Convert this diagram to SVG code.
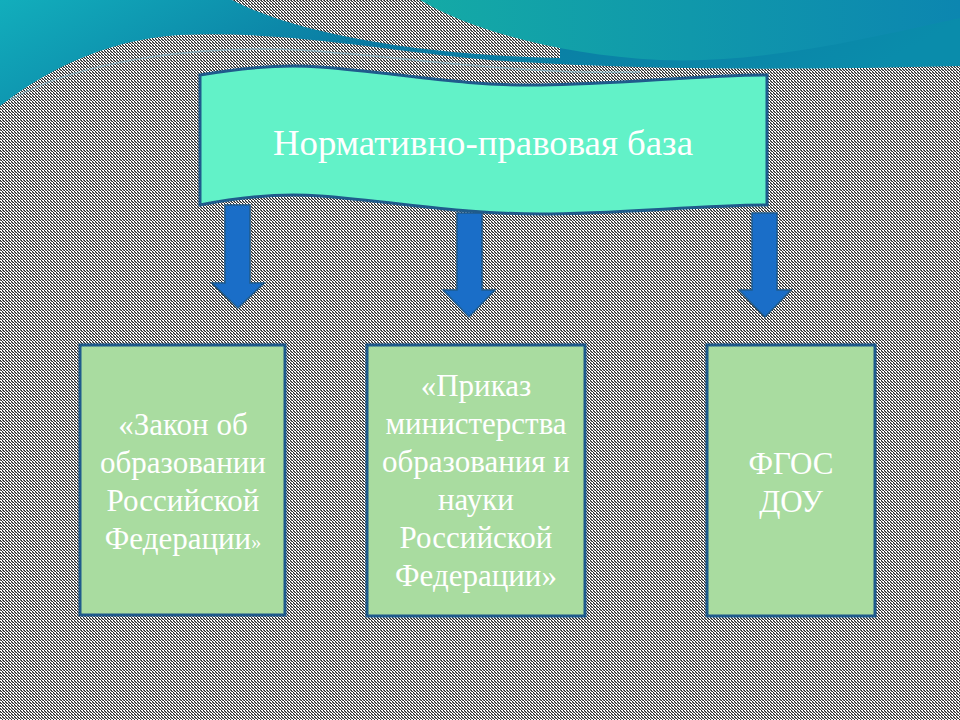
<svg xmlns="http://www.w3.org/2000/svg" width="960" height="720" viewBox="0 0 960 720">
<defs>
<pattern id="bg" width="3" height="3" patternUnits="userSpaceOnUse">
<rect width="3" height="3" fill="#ffffff"/>
<rect x="0" y="0" width="1" height="1" fill="#2a2a2a"/><rect x="1" y="1" width="1" height="1" fill="#2a2a2a"/><rect x="2" y="2" width="1" height="1" fill="#2a2a2a"/><rect x="2" y="0" width="1" height="1" fill="#777"/><rect x="0" y="1" width="1" height="1" fill="#777"/>
</pattern>
<linearGradient id="tl" x1="0" y1="0" x2="1" y2="0.2"><stop offset="0" stop-color="#12aebc"/><stop offset="0.45" stop-color="#0a7aa2"/><stop offset="1" stop-color="#0a8cab"/></linearGradient>
<linearGradient id="tr" x1="0" y1="0" x2="1" y2="0"><stop offset="0" stop-color="#14aaa6"/><stop offset="1" stop-color="#0c86b0"/></linearGradient>
<style>
.box{fill:#a9dca0;stroke:#1f5b8c;stroke-width:3}
.t{font-family:"Liberation Serif",serif;fill:#fff;text-anchor:middle}
.arr{fill:#1a6ec8;stroke:#1f5b8c;stroke-width:1.5}
</style>
</defs>
<rect width="960" height="720" fill="url(#bg)"/>
<path d="M0,0 H960 V66 C800,70 650,70 520,62 C400,55 300,30 180,35 C100,40 40,75 0,106 Z" fill="url(#tl)"/>
<path d="M232,0 C300,35 420,55 560,58 L560,0 Z" fill="url(#bg)"/>
<path d="M420,0 C470,30 560,55 660,60 C760,64 860,40 960,18 V0 Z" fill="url(#tr)"/>
<path d="M10,100 C80,60 200,45 300,50 C420,58 520,75 640,72" fill="none" stroke="#8bc" stroke-width="1.5" opacity="0.7"/>
<g id="header">
<path d="M200,75 C240,68 280,64 320,67 C400,73 460,86 540,85 C620,84 700,75 767,75 V205 C700,205 620,214 540,214 C460,214 400,202 320,196 C280,193 240,197 200,205 Z" fill="#62f2c8" stroke="#1f5b8c" stroke-width="3"/>
<text class="t" x="483" y="155" style="font-size:36px" textLength="420" lengthAdjust="spacingAndGlyphs">Нормативно-правовая база</text>
</g>
<g id="connectors">
<path class="arr" d="M225,205 H250 V283 H264 L238,308 L212,283 H225 Z"/>
<path class="arr" d="M457,213 H482 V290 H495 L469,317 L443,290 H457 Z"/>
<path class="arr" d="M752,213 H777 V290 H791 L765,317 L739,290 H752 Z"/>
</g>
<g id="n1" style="font-size:31px">
<rect class="box" x="80" y="345" width="205" height="270"/>
<text class="t" x="183" y="435">«Закон об</text>
<text class="t" x="183" y="473">образовании</text>
<text class="t" x="183" y="511">Российской</text>
<text class="t" x="183" y="549">Федерации<tspan style="font-size:20px">»</tspan></text>
</g>
<g id="n2" style="font-size:31px">
<rect class="box" x="367" y="345" width="218" height="271"/>
<text class="t" x="476" y="396">«Приказ</text>
<text class="t" x="476" y="434">министерства</text>
<text class="t" x="476" y="472">образования и</text>
<text class="t" x="476" y="510">науки</text>
<text class="t" x="476" y="548">Российской</text>
<text class="t" x="476" y="586">Федерации»</text>
</g>
<g id="n3" style="font-size:31px">
<rect class="box" x="707" y="345" width="168" height="271"/>
<text class="t" x="791" y="474">ФГОС</text>
<text class="t" x="791" y="512">ДОУ</text>
</g>
</svg>
